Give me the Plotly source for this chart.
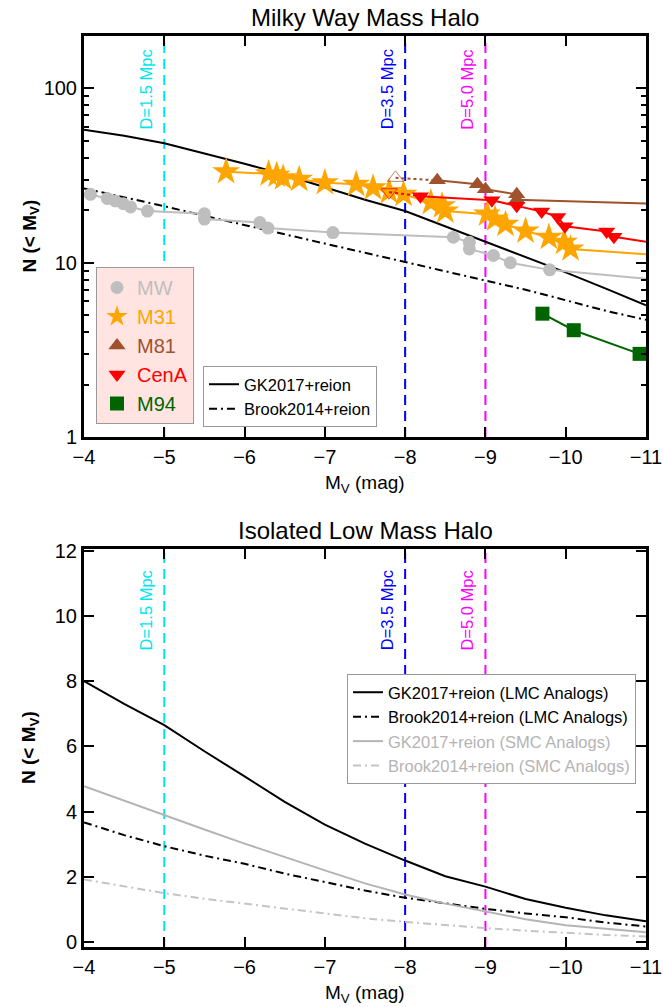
import numpy as np
import plotly.graph_objects as go

# ---------------- data ----------------
# Top panel: Milky Way mass halo, cumulative counts N(<Mv)
mw_mag = [-4.08, -4.29, -4.39, -4.49, -4.58, -4.79, -5.50, -5.50, -6.19, -6.29, -7.10,
          -8.60, -8.80, -8.80, -9.10, -9.31, -9.80]
mw_n = [24.7, 23.4, 22.6, 21.8, 20.9, 19.8, 19.1, 17.8, 17.0, 15.8, 14.9,
        14.0, 13.1, 12.0, 11.0, 10.0, 9.1]
mw_tail_mag = [-11.0]
mw_tail_n = [8.1]

m31_mag = [-5.77, -6.30, -6.40, -6.48, -6.68, -7.00, -7.39, -7.60, -7.80, -7.98,
           -8.32, -8.46, -8.50, -9.02, -9.12, -9.25, -9.50, -9.79, -9.98, -10.06]
m31_n = [33.3, 32.4, 31.8, 30.7, 30.1, 28.8, 28.2, 26.9, 25.6, 24.7,
         22.1, 21.2, 19.8, 19.0, 17.8, 16.6, 15.2, 14.0, 13.1, 12.0]
m31_tail_mag = [-11.0]
m31_tail_n = [11.2]

m81_open_mag = [-7.88]
m81_open_n = [30.7]
m81_mag = [-8.40, -8.90, -9.00, -9.39, -9.39]
m81_n = [29.7, 28.2, 26.4, 24.7, 23.0]
m81_tail_mag = [-11.0]
m81_tail_n = [21.9]

cena_open_mag = [-7.80]
cena_open_n = [25.4]
cena_mag = [-8.19, -9.08, -9.39, -9.70, -9.90, -9.99, -10.51, -10.60]
cena_n = [24.1, 22.8, 21.2, 19.7, 18.3, 16.2, 15.1, 14.1]
cena_tail_mag = [-11.0]
cena_tail_n = [13.2]

m94_mag = [-9.71, -10.10, -10.92]
m94_n = [5.1, 4.1, 3.0]

model_mag = [-4.0, -4.5, -5.0, -5.5, -6.0, -6.5, -7.0, -7.5, -8.0, -8.5, -9.0, -9.5, -10.0, -10.5, -11.0]
gk_mw = [58.0, 53.5, 48.5, 42.5, 37.0, 32.0, 27.0, 23.0, 19.8, 16.2, 13.2, 10.8, 8.8, 7.1, 5.7]
brook_mw = [26.7, 23.8, 21.1, 18.6, 16.5, 14.6, 12.9, 11.4, 10.1, 8.9, 7.9, 7.0, 6.1, 5.3, 4.7]

# Bottom panel: isolated low-mass halo
gk_lmc = [8.0, 7.3, 6.65, 5.85, 5.08, 4.3, 3.6, 3.02, 2.5, 2.02, 1.7, 1.32, 1.05, 0.82, 0.64]
brook_lmc = [3.67, 3.28, 2.94, 2.65, 2.4, 2.1, 1.84, 1.58, 1.36, 1.18, 1.02, 0.88, 0.76, 0.6, 0.48]
gk_smc = [4.78, 4.33, 3.9, 3.45, 3.02, 2.6, 2.2, 1.8, 1.46, 1.18, 0.93, 0.7, 0.52, 0.4, 0.3]
brook_smc = [1.92, 1.7, 1.5, 1.33, 1.18, 1.02, 0.87, 0.73, 0.62, 0.52, 0.43, 0.35, 0.28, 0.22, 0.17]

# distance limits
dist_mag = [-5.0, -8.0, -9.0]
dist_labels = ["D=1.5 Mpc", "D=3.5 Mpc", "D=5.0 Mpc"]
dist_colors = ["#00e5ee", "#0000ff", "#ff00ff"]

x_ticks = [-4, -5, -6, -7, -8, -9, -10, -11]
top_yticks = [1, 10, 100]
top_yminor = [2, 3, 4, 5, 6, 7, 8, 9, 20, 30, 40, 50, 60, 70, 80, 90, 200]
bot_yticks = [0, 2, 4, 6, 8, 10, 12]

# ---------------- styles ----------------
W, H = 663, 1007
FONT = "Liberation Sans, Arial, sans-serif"
C_MW = "#bebebe"
C_M31 = "#ffa500"
C_M81 = "#a0522d"
C_CENA = "#ff0000"
C_M94 = "#006400"
DASHDOT = "8px,4px,2px,4px"

fig = go.Figure()

# top model curves
fig.add_trace(go.Scatter(x=model_mag, y=gk_mw, mode="lines", xaxis="x", yaxis="y",
                         line=dict(color="black", width=2), name="GK2017+reion", legend="legend2"))
fig.add_trace(go.Scatter(x=model_mag, y=brook_mw, mode="lines", xaxis="x", yaxis="y",
                         line=dict(color="black", width=2, dash=DASHDOT), name="Brook2014+reion",
                         legend="legend2"))


def add_galaxy(mag, n, tail_mag, tail_n, color, symbol, size, name):
    fig.add_trace(go.Scatter(x=list(mag) + list(tail_mag), y=list(n) + list(tail_n), mode="lines",
                             xaxis="x", yaxis="y", line=dict(color=color, width=2), showlegend=False))
    fig.add_trace(go.Scatter(x=mag, y=n, mode="markers", xaxis="x", yaxis="y",
                             marker=dict(color=color, symbol=symbol, size=size, line=dict(width=0)),
                             name=f'<span style="color:{color}">{name}</span>', legend="legend"))


def add_open(open_mag, open_n, mag, n, color, symbol):
    fig.add_trace(go.Scatter(x=list(open_mag) + [mag[0]], y=list(open_n) + [n[0]], mode="lines",
                             xaxis="x", yaxis="y", line=dict(color=color, width=2, dash="dot"),
                             showlegend=False))
    fig.add_trace(go.Scatter(x=open_mag, y=open_n, mode="markers", xaxis="x", yaxis="y",
                             marker=dict(color=color, symbol=symbol, size=14, line=dict(width=1, color=color)),
                             opacity=0.7, showlegend=False))


add_galaxy(mw_mag, mw_n, mw_tail_mag, mw_tail_n, C_MW, "circle", 13, "MW")
add_galaxy(m31_mag, m31_n, m31_tail_mag, m31_tail_n, C_M31, "star", 21, "M31")
add_open(m81_open_mag, m81_open_n, m81_mag, m81_n, C_M81, "triangle-up-open")
add_galaxy(m81_mag, m81_n, m81_tail_mag, m81_tail_n, C_M81, "triangle-up", 15, "M81")
add_open(cena_open_mag, cena_open_n, cena_mag, cena_n, C_CENA, "triangle-down-open")
add_galaxy(cena_mag, cena_n, cena_tail_mag, cena_tail_n, C_CENA, "triangle-down", 15, "CenA")
add_galaxy(m94_mag, m94_n, [], [], C_M94, "square", 14, "M94")

# bottom model curves
fig.add_trace(go.Scatter(x=model_mag, y=gk_lmc, mode="lines", xaxis="x2", yaxis="y2",
                         line=dict(color="black", width=2), name="GK2017+reion (LMC Analogs)",
                         legend="legend3"))
fig.add_trace(go.Scatter(x=model_mag, y=brook_lmc, mode="lines", xaxis="x2", yaxis="y2",
                         line=dict(color="black", width=2, dash=DASHDOT),
                         name="Brook2014+reion (LMC Analogs)", legend="legend3"))
fig.add_trace(go.Scatter(x=model_mag, y=gk_smc, mode="lines", xaxis="x2", yaxis="y2",
                         line=dict(color="#b4b4b4", width=2),
                         name='<span style="color:#b4b4b4">GK2017+reion (SMC Analogs)</span>',
                         legend="legend3"))
fig.add_trace(go.Scatter(x=model_mag, y=brook_smc, mode="lines", xaxis="x2", yaxis="y2",
                         line=dict(color="#c4c4c4", width=2, dash=DASHDOT),
                         name='<span style="color:#b4b4b4">Brook2014+reion (SMC Analogs)</span>',
                         legend="legend3"))

# distance lines + labels
shapes = []
annotations = []
for xref, yref, lab_top in (("x", "y domain", 0.972), ("x2", "y2 domain", 0.952)):
    for m, lab, col in zip(dist_mag, dist_labels, dist_colors):
        shapes.append(dict(type="line", xref=xref, yref=yref, x0=m, x1=m, y0=0, y1=1,
                           line=dict(color=col, width=2, dash="10px,6px"), layer="below"))
        annotations.append(dict(x=m, xref=xref, y=lab_top, yref=yref, text=lab, textangle=-90,
                                showarrow=False, xanchor="center", yanchor="top", xshift=-18,
                                font=dict(family=FONT, size=16.5, color=col)))

X0, X1 = 84 / W, 646 / W
TOP_DOM = [1 - 437 / H, 1 - 36 / H]
BOT_DOM = [1 - 947 / H, 1 - 549 / H]
XC = (X0 + X1) / 2

annotations += [
    dict(text="Milky Way Mass Halo", x=XC, y=1 - 18 / H, xref="paper", yref="paper",
         showarrow=False, font=dict(family=FONT, size=24, color="black"), yanchor="middle"),
    dict(text="Isolated Low Mass Halo", x=XC, y=1 - 530 / H, xref="paper", yref="paper",
         showarrow=False, font=dict(family=FONT, size=24, color="black"), yanchor="middle"),
    dict(text="M<sub>V</sub> (mag)", x=XC, y=1 - 484 / H, xref="paper", yref="paper",
         showarrow=False, font=dict(family=FONT, size=19, color="black"), yanchor="middle"),
    dict(text="M<sub>V</sub> (mag)", x=XC, y=1 - 994 / H, xref="paper", yref="paper",
         showarrow=False, font=dict(family=FONT, size=19, color="black"), yanchor="middle"),
    dict(text="<b>N (< M<sub>V</sub>)</b>", x=30 / W, y=(TOP_DOM[0] + TOP_DOM[1]) / 2, xref="paper",
         yref="paper", showarrow=False, textangle=-90, font=dict(family=FONT, size=19, color="black"),
         xanchor="center", yanchor="middle"),
    dict(text="<b>N (< M<sub>V</sub>)</b>", x=30 / W, y=(BOT_DOM[0] + BOT_DOM[1]) / 2, xref="paper",
         yref="paper", showarrow=False, textangle=-90, font=dict(family=FONT, size=19, color="black"),
         xanchor="center", yanchor="middle"),
]

axis_common = dict(showline=True, linecolor="black", linewidth=3, mirror="ticks", ticks="inside",
                   tickwidth=2, ticklen=10, tickcolor="black", showgrid=False, zeroline=False,
                   automargin=False, tickfont=dict(family=FONT, size=20, color="black"))

fig.update_layout(
    width=W, height=H, autosize=False,
    margin=dict(l=0, r=0, t=0, b=0, pad=0),
    paper_bgcolor="white", plot_bgcolor="white",
    showlegend=True,
    xaxis=dict(domain=[X0, X1], anchor="y", range=[-4, -11], tickmode="array", tickvals=x_ticks,
               **axis_common),
    yaxis=dict(domain=TOP_DOM, anchor="x", type="log", range=[0, np.log10(200)], tickmode="array",
               tickvals=top_yticks, ticktext=[str(v) for v in top_yticks],
               minor=dict(tickmode="array", tickvals=top_yminor, ticks="inside", ticklen=5,
                          tickwidth=2, tickcolor="black"),
               **axis_common),
    xaxis2=dict(domain=[X0, X1], anchor="y2", range=[-4, -11], tickmode="array", tickvals=x_ticks,
                **axis_common),
    yaxis2=dict(domain=BOT_DOM, anchor="x2", range=[-0.15, 12.05], tickmode="array",
                tickvals=bot_yticks, **axis_common),
    legend=dict(x=96 / W, y=1 - 267 / H, xanchor="left", yanchor="top", bgcolor="#ffe4e1",
                bordercolor="#999999", borderwidth=1, font=dict(family=FONT, size=20),
                itemsizing="trace"),
    legend2=dict(x=203 / W, y=1 - 366 / H, xanchor="left", yanchor="top", bgcolor="white",
                 bordercolor="#999999", borderwidth=1, font=dict(family=FONT, size=16.5, color="black")),
    legend3=dict(x=347 / W, y=1 - 674 / H, xanchor="left", yanchor="top", bgcolor="white",
                 bordercolor="#999999", borderwidth=1, font=dict(family=FONT, size=16.5, color="black")),
    shapes=shapes,
    annotations=annotations,
)

fig.write_html("out.html", config={"displayModeBar": False})
